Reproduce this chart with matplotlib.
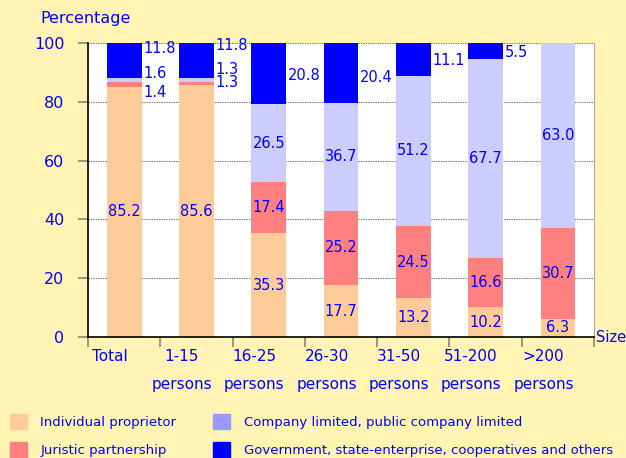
import matplotlib.pyplot as plt
import numpy as np
from matplotlib.patches import Patch

# colours taken from the chart
PEACH = "#ffcc99"
SALMON = "#ff8080"
LAVENDER = "#ccccff"
LAVENDER_KEY = "#9999ff"
BLUE = "#0000ff"
BG = "#fff4b3"
TXT = "#0000ff"

plt.rcParams.update({"font.family": "DejaVu Sans", "font.size": 10})

categories = ["Total", "1-15", "16-25", "26-30", "31-50", "51-200", ">200"]
second_row = ["", "persons", "persons", "persons", "persons", "persons", "persons"]

individual = [85.2, 85.6, 35.3, 17.7, 13.2, 10.2, 6.3]
juristic = [1.4, 1.3, 17.4, 25.2, 24.5, 16.6, 30.7]
company = [1.6, 1.3, 26.5, 36.7, 51.2, 67.7, 63.0]
government = [11.8, 11.8, 20.8, 20.4, 11.1, 5.5, 0.0]

series = [
    ("Individual proprietor", individual, PEACH),
    ("Juristic partnership", juristic, SALMON),
    ("Company limited, public company limited", company, LAVENDER),
    ("Government, state-enterprise, cooperatives and others", government, BLUE),
]

# labels drawn beside the bar instead of inside, with a vertical nudge
outside = {
    (1, 0): -2.6, (1, 1): 0.2,
    (2, 0): 2.4, (2, 1): 3.5,
    (3, 0): 4.2, (3, 1): 5.2, (3, 2): -0.6, (3, 3): -1.4, (3, 4): -0.4, (3, 5): -0.6,
}

fig = plt.figure(figsize=(6.26, 4.58), dpi=100, facecolor=BG)
ax = fig.add_axes([0.1406, 0.264, 0.8084, 0.642])
ax.set_facecolor("white")

x = np.arange(len(categories))
width = 0.48
bottom = np.zeros(len(categories))
for s, (name, vals, col) in enumerate(series):
    vals = np.array(vals)
    ax.bar(x, vals, width, bottom=bottom, color=col, linewidth=0, zorder=2)
    for i, v in enumerate(vals):
        if v <= 0:
            continue
        mid = bottom[i] + v / 2
        if (s, i) in outside:
            ax.text(x[i] + width / 2 + 0.02, mid + outside[(s, i)], f"{v:.1f}",
                    ha="left", va="center", color=TXT, fontsize=10.5, zorder=3)
        else:
            ax.text(x[i], mid, f"{v:.1f}", ha="center", va="center",
                    color=TXT, fontsize=10.5, zorder=3)
    bottom += vals

ax.set_xlim(-0.5, len(categories) - 0.5)
ax.set_ylim(0, 100)
ax.set_yticks(np.arange(0, 101, 20))
ax.yaxis.grid(True, linestyle=(0, (1.5, 1)), color="#777777", linewidth=0.7, zorder=1)
ax.set_axisbelow(True)

# category ticks sit on group boundaries, names below
ax.set_xticks(np.arange(-0.5, len(categories), 1.0))
ax.set_xticklabels([])
for i, (a, b) in enumerate(zip(categories, second_row)):
    ax.text(x[i] - 0.2, -4, a, ha="center", va="top", color=TXT, fontsize=11,
            transform=ax.transData, clip_on=False)
    ax.text(x[i] - 0.2, -13.5, b, ha="center", va="top", color=TXT, fontsize=11,
            transform=ax.transData, clip_on=False)

ax.tick_params(axis="both", colors="#888866", length=7, width=1.2, labelcolor=TXT,
               labelsize=11.5)
ax.tick_params(axis="y", pad=10)
for side in ["left", "bottom"]:
    ax.spines[side].set_color("black")
    ax.spines[side].set_linewidth(1.2)
ax.spines["top"].set_visible(False)
ax.spines["right"].set_color("#aaaaaa")
ax.spines["right"].set_linestyle((0, (2, 1)))

fig.text(40 / 626, 1 - 18 / 458, "Percentage", ha="left", va="center",
         color=TXT, fontsize=11.5)
ax.text(1.003, 0.0, "Size", transform=ax.transAxes, ha="left", va="center",
        color=TXT, fontsize=10.5)

handles = [
    Patch(color=PEACH, label=series[0][0]),
    Patch(color=SALMON, label=series[1][0]),
    Patch(color=LAVENDER_KEY, label=series[2][0]),
    Patch(color=BLUE, label=series[3][0]),
]
leg = fig.legend(handles=handles, ncol=2, loc="upper left",
                 bbox_to_anchor=(0.016, 1 - 414 / 458), frameon=False, fontsize=9.5,
                 handlelength=1.3, handleheight=1.4, handletextpad=1.0,
                 columnspacing=2.8, labelspacing=1.0, borderaxespad=0,
                 borderpad=0)
for t in leg.get_texts():
    t.set_color(TXT)

plt.savefig("out.png", dpi=100, facecolor=BG)
